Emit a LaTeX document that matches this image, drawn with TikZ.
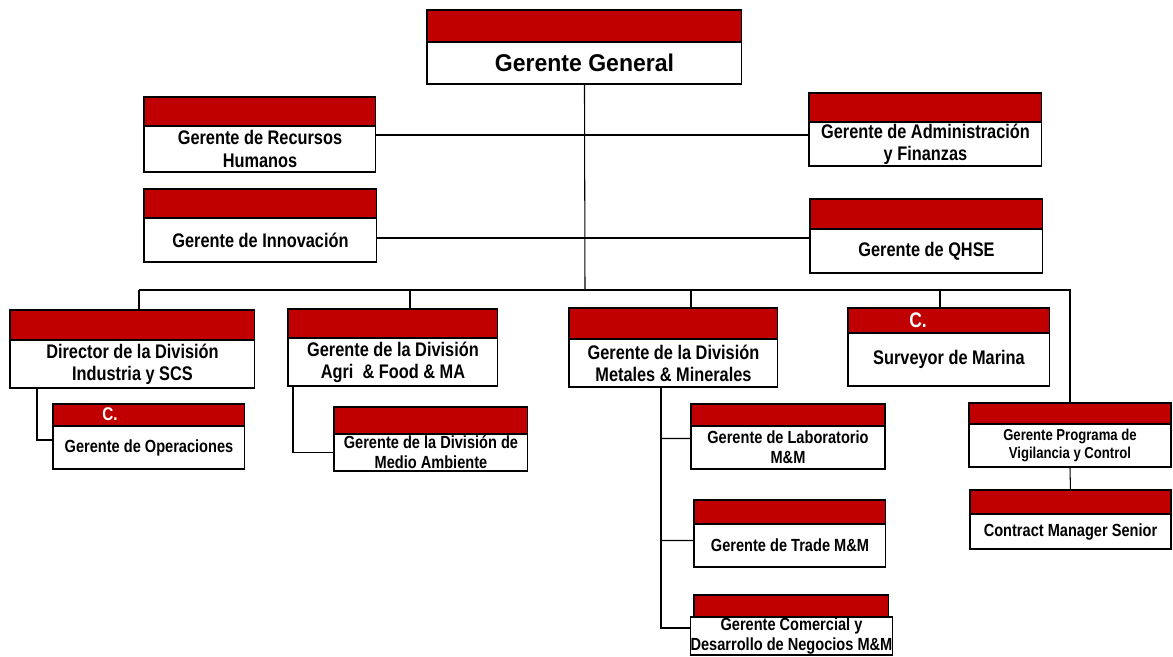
\documentclass[tikz,border=0pt]{standalone}
\usepackage{fontspec}
\setmainfont{Liberation Sans}[FakeStretch=0.83]
\newfontfamily\ggfont{Liberation Sans}[FakeStretch=0.95]
\usepackage{tikz}
\usetikzlibrary{positioning}
\definecolor{bandred}{RGB}{192,0,0}

\begin{document}
\begin{tikzpicture}[x=0.02cm, y=-0.02cm,
    band/.style={draw, fill=bandred, line width=0.6pt, inner sep=0pt, outer sep=0pt, anchor=north west},
    post/.style={draw, fill=white, line width=0.6pt, inner sep=0pt, outer sep=0pt, align=center},
    big/.style={font=\bfseries\fontsize{11.2}{12.6}\selectfont},
    mid/.style={font=\bfseries\fontsize{10}{11.3}\selectfont},
    small/.style={font=\bfseries\fontsize{9}{10.6}\selectfont},
    cmark/.style={text=white, inner sep=0pt},
    link/.style={line width=0.6pt}]
            \useasboundingbox (0,0) rectangle (1173,656);

            % top
            \node[band, minimum width=6.3cm, minimum height=0.64cm] (gg-h) at (427,10) {};
            \node[post, minimum width=6.3cm, minimum height=0.84cm, below=0pt of gg-h, font=\ggfont\bfseries\fontsize{13.8}{16}\selectfont] (gg) {Gerente General};

            % staff
            \node[band, minimum width=4.64cm, minimum height=0.58cm] (rh-h) at (144,97) {};
            \node[post, big, minimum width=4.64cm, minimum height=0.92cm, below=0pt of rh-h] (rh) {Gerente de Recursos\\Humanos};
            \node[band, minimum width=4.66cm, minimum height=0.58cm] (inn-h) at (144,189) {};
            \node[post, big, minimum width=4.66cm, minimum height=0.88cm, below=0pt of inn-h] (inn) {Gerente de Innovación};
            \node[band, minimum width=4.66cm, minimum height=0.58cm] (af-h) at (809,93) {};
            \node[post, big, minimum width=4.66cm, minimum height=0.88cm, below=0pt of af-h] (af) {Gerente de Administración\\y Finanzas};
            \node[band, minimum width=4.66cm, minimum height=0.6cm] (qhse-h) at (810,199) {};
            \node[post, big, minimum width=4.66cm, minimum height=0.88cm, below=0pt of qhse-h] (qhse) {Gerente de QHSE};

            % divisions
            \node[band, minimum width=4.9cm, minimum height=0.6cm] (dir-h) at (10,310) {};
            \node[post, big, minimum width=4.9cm, minimum height=0.96cm, below=0pt of dir-h] (dir) {Director de la División\\Industria y SCS};
            \node[band, minimum width=4.2cm, minimum height=0.58cm] (agri-h) at (288,309) {};
            \node[post, big, minimum width=4.2cm, minimum height=0.96cm, below=0pt of agri-h] (agri) {Gerente de la División\\Agri\ \ \& Food \& MA};
            \node[band, minimum width=4.18cm, minimum height=0.62cm] (met-h) at (569,308) {};
            \node[post, big, minimum width=4.18cm, minimum height=0.96cm, below=0pt of met-h] (met) {Gerente de la División\\Metales \& Minerales};
            \node[band, minimum width=4.04cm, minimum height=0.5cm] (mar-h) at (848,308) {};
            \node[post, big, minimum width=4.04cm, minimum height=1.06cm, below=0pt of mar-h] (mar) {Surveyor de Marina};
            \node[cmark, big, font=\bfseries\fontsize{12}{13}\selectfont] (mar-c) at (918,320) {C.};

            % second level
            \node[band, minimum width=3.84cm, minimum height=0.44cm] (ope-h) at (53,404) {};
            \node[post, mid, minimum width=3.84cm, minimum height=0.86cm, below=0pt of ope-h] (ope) {Gerente de Operaciones};
            \node[cmark, font=\bfseries\fontsize{10.5}{12}\selectfont] (ope-c) at (110,414) {C.};
            \node[band, minimum width=3.88cm, minimum height=0.54cm] (amb-h) at (334,407) {};
            \node[post, mid, minimum width=3.88cm, minimum height=0.74cm, below=0pt of amb-h] (amb) {Gerente de la División de\\Medio Ambiente};
            \node[band, minimum width=3.88cm, minimum height=0.44cm] (lab-h) at (691,404) {};
            \node[post, mid, minimum width=3.88cm, minimum height=0.86cm, below=0pt of lab-h] (lab) {Gerente de Laboratorio\\M\&M};
            \node[band, minimum width=3.84cm, minimum height=0.48cm] (tra-h) at (694,500) {};
            \node[post, mid, minimum width=3.84cm, minimum height=0.86cm, below=0pt of tra-h] (tra) {Gerente de Trade M\&M};
            \node[band, minimum width=3.9cm, minimum height=0.44cm] (com-h) at (694,595) {};
            \node[post, mid, minimum width=3.9cm, minimum height=0.76cm, below=0pt of com-h] (com) {Gerente Comercial y\\Desarrollo de Negocios M\&M};
            \node[band, minimum width=4.04cm, minimum height=0.42cm] (vig-h) at (969,403) {};
            \node[post, small, minimum width=4.04cm, minimum height=0.86cm, below=0pt of vig-h] (vig) {Gerente Programa de\\Vigilancia y Control};
            \node[band, minimum width=4.02cm, minimum height=0.48cm] (con-h) at (970,490) {};
            \node[post, mid, minimum width=4.02cm, minimum height=0.7cm, below=0pt of con-h] (con) {Contract Manager Senior};

            % lines
            \coordinate (j1) at (585,135);
            \coordinate (j2) at (585,238);
            \coordinate (bus) at (585,290);
            \coordinate (b1) at (139,290);
            \coordinate (b2) at (410,290);
            \coordinate (b3) at (691,290);
            \coordinate (b4) at (940,290);
            \coordinate (c1) at (37,388);
            \coordinate (c2) at (293,386);
            \coordinate (c3) at (661,387);

            \draw[link] (gg.south) -- (bus);
            \draw[link] (rh.east |- j1) -- (af.west |- j1);
            \draw[link] (inn.east |- j2) -- (qhse.west |- j2);
            \draw[link] (b1) -| (vig-h.north);
            \foreach \b/\n in {b1/dir, b2/agri, b3/met, b4/mar}
                \draw[link] (\b) -- (\b |- \n-h.north);
            \draw[link] (c1) |- ([yshift=0.15cm]ope.west);
            \draw[link] (c2) |- (amb.west);
            \draw[link] (c3) |- ([yshift=0.16cm]com.west);
            \draw[link] (c3 |- lab.west) ++(0,-9) -- ([yshift=0.18cm]lab.west);
            \draw[link] (c3 |- tra.west) ++(0,-5) -- ([yshift=0.1cm]tra.west);
            \draw[link] (vig.south) -- (con-h.north);
        \end{tikzpicture}
\end{document}
